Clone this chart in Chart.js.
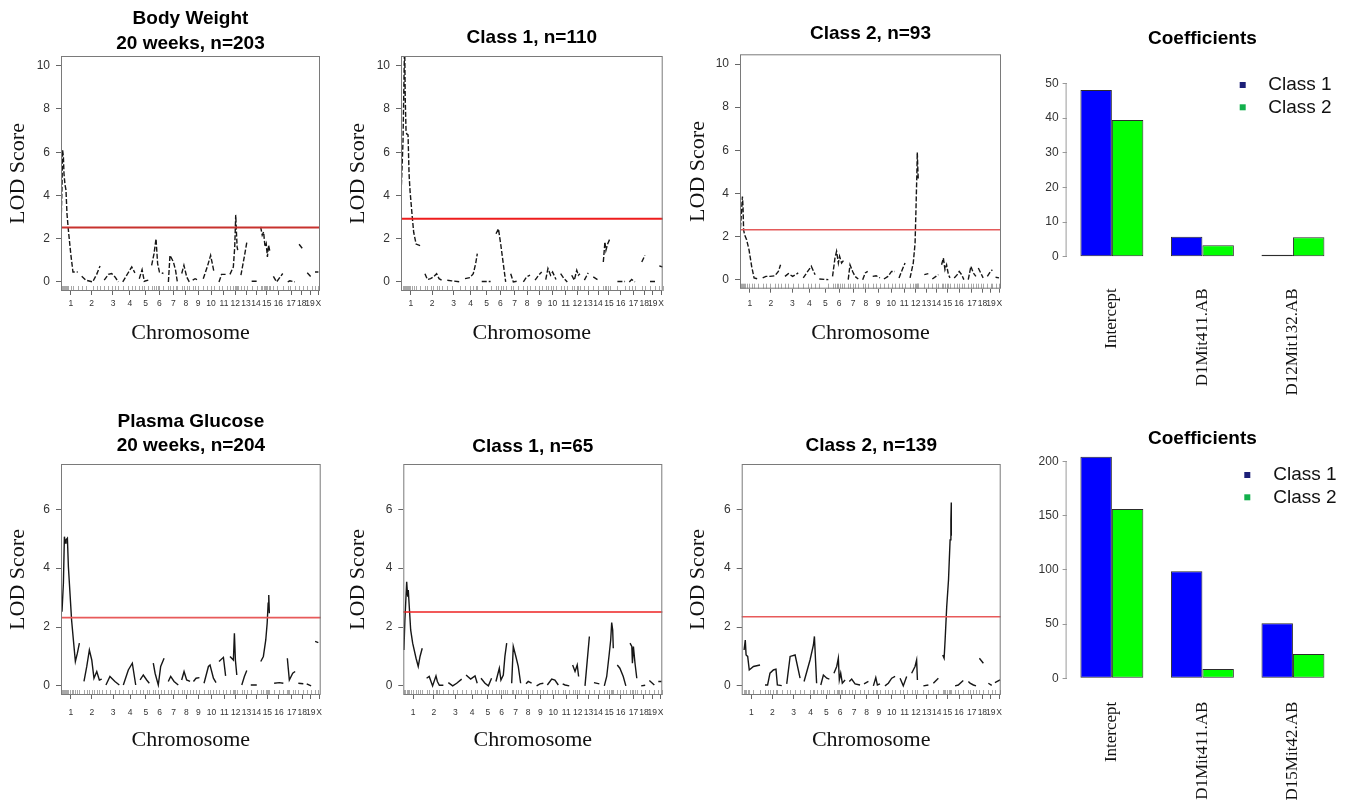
<!DOCTYPE html>
<html>
<head>
<meta charset="utf-8">
<title>LOD scores and class coefficients</title>
<script src="https://cdn.jsdelivr.net/npm/chart.js@4.4.1/dist/chart.umd.min.js"></script>
<style>
  html, body { margin: 0; padding: 0; background: #fff; overflow: hidden; }
  body { position: relative; width: 1351px; height: 805px; }
  canvas { position: absolute; }
</style>
</head>
<body>
<canvas id="bwAll" width="340" height="350" style="left:0;top:0"></canvas>
<canvas id="bwClass1" width="340" height="350" style="left:340px;top:0"></canvas>
<canvas id="bwClass2" width="340" height="350" style="left:680px;top:0"></canvas>
<canvas id="bwCoef" width="341" height="400" style="left:1010px;top:0"></canvas>
<canvas id="pgAll" width="340" height="365" style="left:0;top:400px"></canvas>
<canvas id="pgClass1" width="340" height="365" style="left:340px;top:400px"></canvas>
<canvas id="pgClass2" width="340" height="365" style="left:680px;top:400px"></canvas>
<canvas id="pgCoef" width="341" height="395" style="left:1010px;top:410px"></canvas>
<script>
// Chromosome axis (genome position, cM-like units along the whole genome)
const chromNames = ['1','2','3','4','5','6','7','8','9','10','11','12','13','14','15','16','17','18','19','X'];
const chromMid = [49,154,261,346,425,494,564,627,688,753,818,875,929,979,1033,1091,1155,1208,1250,1292];

// LOD curves: one sub-array per chromosome (positions / LOD scores)
// Body weight, all mice
const bwAllPos = [[0,5,8,12,15,20,25,30,37,49,60,84],[104,125,159,179,196],[217,238,254,271,288],[310,335,355,371],[393,407,418,438],[455,467,477,485,494,514],[539,547,564,575,584],[606,617,631,644],[661,673,689],[714,734,751,768],[793,806,831],[848,865,872,877,880,884,887],[903,920,934],[957,982],[1002,1010,1017,1024,1030,1036,1042,1049],[1066,1082,1113],[1138,1149,1174],[1195,1216],[1236,1258],[1275,1292]];
const bwAllLod = [[2.55,4.4,6.1,5.8,5.0,4.5,4.25,3.15,2.4,1.3,0.46,0.46],[0.26,0.08,0,0.35,0.74],[0.08,0.35,0.39,0.23,0],[0,0.39,0.69,0.42],[0.15,0.57,0.03,0.08],[0.77,1.31,2.0,0.85,0.46,0.39],[0,1.23,0.93,0.54,0],[0.39,0.77,0.23,0],[0.08,0.15,0.08],[0.15,0.69,1.23,0.46],[0,0.35,0.35],[0.35,0.69,1.62,3.1,2.4,1.62,1.47],[0.31,1.16,1.9],[0.03,0.03],[2.55,2.16,2.31,1.62,1.77,1.16,1.7,1.39],[0.26,0,0.39],[0,0.05,0],[1.74,1.5],[0.42,0.2],[0.46,0.46]];
// Body weight, class 1
const bwClass1Pos = [[2,10,15,18,21,25,28,35,40,45,55,63,75,95],[119,131,147,161,177,189,202],[230,252,293],[318,343,359,371,379],[401,445],[472,484,495,508,520],[545,558,583],[608,624,641],[666,684,699],[719,730,743,753,770],[793,810,826],[848,861,873,881,889],[911,930],[955,980],[1005,1013,1018,1027,1038],[1075,1113],[1134,1146,1162],[1196,1212],[1237,1262],[1283,1300]];
const bwClass1Lod = [[4.5,6.5,9.5,11.2,8.5,7.0,6.85,6.8,5.0,4.2,3.1,2.3,1.75,1.68],[0.38,0.11,0.15,0.23,0.38,0.15,0.08],[0.08,0.05,0],[0.15,0.2,0.38,0.85,1.31],[0.02,0.02],[2.23,2.46,1.77,0.85,0],[0.38,0,0.05],[0,0.23,0.31],[0.08,0.31,0.46],[0.11,0.62,0.31,0.46,0.11],[0.38,0.15,0],[0.31,0.08,0.54,0.31,0.38],[0.08,0.42],[0.23,0.08],[0.92,1.85,1.46,1.77,2.0],[0.02,0.02],[0,0.11,0],[0.92,1.23],[0.02,0.02],[0.74,0.69]];
// Body weight, class 2
const bwClass2Pos = [[0,7,12,15,18,23,33,45,58,70,91],[113,129,149,174,191,202],[224,241,262,290],[315,337,355,374],[395,440],[461,473,481,490,496,506,518],[539,548,561,573,589],[611,624,636],[661,678,697],[717,737,755,772],[792,808,822],[847,863,872,876,881,883,886,888],[918,938],[958,976,988],[1004,1013,1021,1029,1038,1046],[1067,1082,1092,1104,1115],[1137,1150,1162,1175],[1187,1199,1211],[1232,1248,1257],[1273,1290]];
const bwClass2Lod = [[2.08,3.08,3.85,3.38,2.31,2.08,1.85,1.38,0.62,0.08,0.03],[0.08,0.15,0.15,0.18,0.38,0.69],[0.15,0.28,0.15,0.31],[0.08,0.38,0.62,0.23],[0.03,0],[0.15,1.0,1.31,0.77,1.08,0.77,0.92],[0,0.69,0.38,0.15,0.03],[0,0.31,0.38],[0.15,0.18,0.08],[0.03,0.15,0.38,0.38],[0.08,0.46,0.77],[0.08,0.77,1.69,3.08,4.92,5.9,5.08,4.62],[0.23,0.28],[0.03,0.15,0.23],[0.69,1.0,0.46,0.69,0.23,0.08],[0.08,0.23,0.38,0.23,0],[0,0.62,0.31,0.15],[0.54,0.31,0.08],[0.15,0.38,0.46],[0.11,0.08]];
// Plasma glucose, all mice
const pgAllPos = [[5,12,17,22,25,32,37,45,53,62,72,82,92],[115,129,142,154,165,179,192,204],[225,245,270,292],[312,337,357,374],[396,412,429,442],[462,471,487,499,516],[537,549,566,587],[604,616,629,646],[663,676,693],[716,738,746,763,776],[791,813,824],[846,863,868,873,880],[905,918,930],[950,980],[1000,1013,1025,1032,1037,1040,1043],[1067,1093,1113],[1133,1138,1143,1160,1172],[1188,1213],[1230,1252],[1272,1288]];
const pgAllLod = [[2.52,3.49,5.07,4.85,4.96,5.02,4.05,3.15,2.24,1.56,0.83,1.11,1.45],[0.15,0.66,1.22,0.88,0.26,0.49,0.2,0.23],[0.03,0.32,0.15,0.03],[0.03,0.54,0.77,0.03],[0.2,0.37,0.2,0.09],[0.77,0.43,0.03,0.66,0.94],[0.15,0.32,0.15,0.03],[0.2,0.49,0.2,0.15],[0.15,0.26,0.28],[0.09,0.66,0.71,0.26,0.11],[0.83,0.97,0.34],[1.0,0.88,1.79,0.88,0.37],[0.03,0.32,0.52],[0.03,0.03],[0.83,1.0,1.56,2.13,2.81,3.09,2.47],[0.09,0.11,0.09],[0.94,0.57,0.2,0.43,0.49],[0.09,0.07],[0.07,0],[1.51,1.47]];
// Plasma glucose, class 1
const pgClass1Pos = [[3,8,17,22,25,30,37,47,64,75,84,95],[117,130,147,164,171,181,201],[226,248,268,293],[315,338,360,371],[390,410,427,443],[465,482,490,502,510,519],[544,552,565,577,589],[616,627,644],[669,686,703],[723,745,761,778],[800,812,833],[850,862,873,880],[912,934],[957,984],[1009,1021,1034,1041,1046,1051,1054],[1074,1087,1104,1117],[1138,1147,1150,1155,1163,1172],[1194,1214],[1235,1260],[1280,1297]];
const pgClass1Lod = [[1.22,2.24,3.54,3.03,3.26,2.69,1.9,1.45,0.94,0.66,1.0,1.28],[0.26,0.32,0,0.34,0.15,0.02,0.02],[0.11,0,0.09,0.23],[0.37,0.23,0.34,0.09],[0.26,0.09,0,0.26],[0.15,0.6,0.2,0.37,1.0,1.45],[0.09,1.34,1.0,0.66,0.09],[0.07,0.15,0.09],[0,0.07,0.09],[0.03,0.23,0.2,0.03],[0.07,0.03,0],[0.71,0.49,0.71,0.32],[0,1.68],[0.11,0.07],[0,0.32,1.11,1.56,2.15,1.9,1.28],[0.71,0.6,0.32,0],[1.45,1.34,0.77,1.34,0.77,0.26],[0,0.02],[0.18,0.03],[0.15,0.15]];
// Plasma glucose, class 2
const pgClass2Pos = [[12,18,22,30,38,59,92],[117,130,142,159,172,179,201],[226,243,268,293],[313,343,360,365,376],[397,410,427,440],[463,477,485,490,497,505,519],[540,552,569,594],[614,636],[661,673,681,694],[719,736,753,770],[795,811,828],[853,870,878,882],[912,937],[962,987],[1009,1016,1021,1029,1038,1046,1050,1052,1052],[1071,1087,1112],[1138,1146,1163,1176],[1193,1213],[1238,1255],[1271,1297]];
const pgClass2Lod = [[1.22,1.56,1.05,1.0,0.54,0.66,0.71],[0.03,0.03,0.43,0.54,0.57,0.03,0.01],[0.07,1.0,1.05,0.26],[0.15,0.88,1.39,1.68,0.09],[0.03,0.37,0.26,0.23],[0.43,0.66,0.94,0.2,0.43,0.09,0.2],[0.15,0.23,0.07,0.03],[0.07,0.15],[0,0.28,0.03,0.07],[0,0.09,0.26,0.32],[0.26,0,0.32],[0.43,0.66,0.88,0.2],[0,0.03],[0.09,0.26],[1.05,0.94,1.56,2.69,3.6,4.96,5.64,6.23,5.1],[0,0.03,0.18],[0.15,0.09,0.03,0],[0.94,0.77],[0.09,0.02],[0.11,0.2]];

// Significance thresholds (bwAll, bwClass1, bwClass2, pgAll, pgClass1, pgClass2)
const lodThreshold = [2.52, 2.92, 2.31, 2.32, 2.51, 2.35];

// Tick labels
const bwLodTicks = [0, 2, 4, 6, 8, 10];
const pgLodTicks = [0, 2, 4, 6];

// Mixture-model coefficients
const bwCoefNames = ['Intercept', 'D1Mit411.AB', 'D12Mit132.AB'];
const bwCoefClass1 = [48.1, 5.8, 0.6];
const bwCoefClass2 = [39.4, 3.3, 5.6];
const bwCoefTicks = [0, 10, 20, 30, 40, 50];
const pgCoefNames = ['Intercept', 'D1Mit411.AB', 'D15Mit42.AB'];
const pgCoefClass1 = [204.6, 98.8, 50.8];
const pgCoefClass2 = [156.3, 8.6, 22.4];
const pgCoefTicks = [0, 50, 100, 150, 200];
const classNames = ['Class 1', 'Class 2'];

const SANS = '"Liberation Sans", Arial, Helvetica, sans-serif';
const SERIF = '"Liberation Serif", "Times New Roman", Times, serif';

// R-style frame: marker rug, threshold line and plot box
const lodFrame = {
  id: 'lodFrame',
  afterDatasetsDraw(chart, args, o) {
    const {ctx, chartArea: a, scales: {x, y}} = chart;
    ctx.save();
    ctx.strokeStyle = '#a8a8a8';
    ctx.lineWidth = 1;
    ctx.beginPath();
    o.markers.forEach(p => {
      const px = Math.round(x.getPixelForValue(p)) + 0.5;
      ctx.moveTo(px, a.bottom);
      ctx.lineTo(px, a.bottom - 5);
    });
    ctx.stroke();

    const ty = y.getPixelForValue(o.threshold);
    ctx.strokeStyle = o.color;
    ctx.lineWidth = o.width;
    ctx.beginPath();
    ctx.moveTo(a.left, ty);
    ctx.lineTo(a.right, ty);
    ctx.stroke();

    ctx.strokeStyle = '#7a7a7a';
    ctx.lineWidth = 1;
    ctx.strokeRect(a.left + 0.5, a.top + 0.5, a.width - 1, a.height - 1);
    ctx.restore();
  }
};

// R barplot extras: partial y axis line and a top-right legend
const barExtras = {
  id: 'barExtras',
  afterDraw(chart, args, o) {
    const {ctx, chartArea: a, scales: {y}} = chart;
    ctx.save();
    ctx.strokeStyle = '#9a9a9a';
    ctx.lineWidth = 1;
    ctx.beginPath();
    ctx.moveTo(a.left - 0.5, y.getPixelForValue(o.axisFrom));
    ctx.lineTo(a.left - 0.5, y.getPixelForValue(o.axisTo));
    ctx.stroke();

    ctx.font = '19px ' + SANS;
    ctx.textBaseline = 'middle';
    chart.data.datasets.forEach((ds, i) => {
      const ly = a.top + o.legendTop + i * o.legendGap;
      ctx.fillStyle = o.keyColors[i];
      ctx.fillRect(a.right - o.keyX - 3, ly - 3, 6, 6);
      ctx.fillStyle = '#111';
      ctx.fillText(ds.label, a.right - o.textX, ly);
    });
    ctx.restore();
  }
};

function segPoints(pos, lod) {
  const pts = [];
  pos.forEach((seg, c) => {
    if (c > 0) pts.push({x: (pos[c - 1][pos[c - 1].length - 1] + seg[0]) / 2, y: null});
    seg.forEach((p, k) => pts.push({x: p, y: lod[c][k]}));
  });
  return pts;
}

function lodChart(id, o) {
  return new Chart(document.getElementById(id), {
    type: 'line',
    data: {
      datasets: [{
        data: segPoints(o.pos, o.lod),
        borderColor: '#161616',
        borderWidth: 1.4,
        borderDash: o.dash,
        pointRadius: 0,
        spanGaps: false,
        tension: 0
      }]
    },
    options: {
      responsive: false,
      animation: false,
      events: [],
      layout: {padding: {top: 0, right: o.padRight, bottom: 0, left: 0}},
      scales: {
        x: {
          type: 'linear', min: 0, max: 1300,
          afterBuildTicks: s => { s.ticks = chromMid.map(v => ({value: v})); },
          afterFit: s => { s.height = o.xHeight; },
          grid: {drawOnChartArea: false, drawTicks: true, tickLength: 4, color: '#666'},
          border: {display: false},
          ticks: {
            autoSkip: false, maxRotation: 0, minRotation: 0, padding: o.xPad,
            font: {family: SANS, size: 8.5}, color: '#333',
            callback: (v, i) => chromNames[i]
          },
          title: {display: true, text: 'Chromosome', color: '#111',
            font: {family: SERIF, size: 22}, padding: {top: 0, bottom: o.xTitlePad}}
        },
        y: {
          min: o.yMin, max: o.yMax,
          afterBuildTicks: s => { s.ticks = o.yTicks.map(v => ({value: v})); },
          afterFit: s => { s.width = o.yWidth; },
          grid: {drawOnChartArea: false, drawTicks: true, tickLength: 5, color: '#666'},
          border: {display: false},
          ticks: {padding: 6, font: {family: SANS, size: 12}, color: '#333'},
          title: {display: true, text: 'LOD Score', color: '#111',
            font: {family: SERIF, size: 22}, padding: {top: 5, bottom: 0}}
        }
      },
      plugins: {
        legend: {display: false},
        tooltip: {enabled: false},
        title: {
          display: true, text: o.title, fullSize: false, color: '#000',
          font: {family: SANS, size: 19, weight: 'bold', lineHeight: o.titleLH + 'px'},
          padding: {top: o.titleTop, bottom: o.titleBottom}
        },
        lodFrame: {markers: o.pos.flat(), threshold: o.threshold, color: o.lineColor, width: o.lineWidth}
      }
    },
    plugins: [lodFrame]
  });
}

function coefChart(id, o) {
  return new Chart(document.getElementById(id), {
    type: 'bar',
    data: {
      labels: o.names,
      datasets: [
        {label: classNames[0], data: o.class1, backgroundColor: '#0000ff', borderColor: '#2c2c2c', borderWidth: 1, borderSkipped: false},
        {label: classNames[1], data: o.class2, backgroundColor: '#00ff00', borderColor: '#2c2c2c', borderWidth: 1, borderSkipped: false}
      ]
    },
    options: {
      responsive: false,
      animation: false,
      events: [],
      categoryPercentage: 0.695,
      barPercentage: 1,
      layout: {padding: {top: 0, right: 12.8, bottom: 0, left: 0}},
      scales: {
        x: {
          afterFit: s => { s.height = o.xHeight; },
          grid: {display: false, drawTicks: false},
          border: {display: false},
          ticks: {autoSkip: false, minRotation: 90, maxRotation: 90, padding: o.xPad,
            font: {family: SERIF, size: 17}, color: '#111'}
        },
        y: {
          min: o.yMin, max: o.yMax,
          afterBuildTicks: s => { s.ticks = o.yTicks.map(v => ({value: v})); },
          afterFit: s => { s.width = 56.6; },
          grid: {drawOnChartArea: false, drawTicks: true, tickLength: 4, color: '#999'},
          border: {display: false},
          ticks: {padding: 4, font: {family: SANS, size: 12}, color: '#333'}
        }
      },
      plugins: {
        legend: {display: false},
        tooltip: {enabled: false},
        title: {
          display: true, text: 'Coefficients', fullSize: false, color: '#000',
          font: {family: SANS, size: 19, weight: 'bold', lineHeight: '25px'},
          padding: {top: o.titleTop, bottom: o.titleBottom}
        },
        barExtras: {
          axisFrom: o.yTicks[0], axisTo: o.yTicks[o.yTicks.length - 1],
          keyColors: ['#1c2078', '#12b04c'],
          legendTop: o.legendTop, legendGap: 22.3, keyX: o.keyX, textX: o.textX
        }
      }
    },
    plugins: [barExtras]
  });
}

const topDash = [5, 2];

lodChart('bwAll', {
  pos: bwAllPos, lod: bwAllLod, threshold: lodThreshold[0], lineColor: '#c8322e', lineWidth: 2,
  title: ['Body Weight', '20 weeks, n=203'], titleLH: 25, titleTop: 6, titleBottom: 0,
  yMin: -0.42, yMax: 10.45, yTicks: bwLodTicks, yWidth: 61, padRight: 20,
  xHeight: 59, xPad: 4, xTitlePad: 3.8, dash: topDash
});
lodChart('bwClass1', {
  pos: bwClass1Pos, lod: bwClass1Lod, threshold: lodThreshold[1], lineColor: '#ee1c1c', lineWidth: 2,
  title: 'Class 1, n=110', titleLH: 25, titleTop: 24.8, titleBottom: 6.2,
  yMin: -0.42, yMax: 10.45, yTicks: bwLodTicks, yWidth: 61, padRight: 17.3,
  xHeight: 59, xPad: 4, xTitlePad: 3.8, dash: topDash
});
lodChart('bwClass2', {
  pos: bwClass2Pos, lod: bwClass2Lod, threshold: lodThreshold[2], lineColor: '#e45a5a', lineWidth: 1.5,
  title: 'Class 2, n=93', titleLH: 25, titleTop: 20.8, titleBottom: 8.5,
  yMin: -0.42, yMax: 10.45, yTicks: bwLodTicks, yWidth: 60, padRight: 19,
  xHeight: 61.3, xPad: 6.3, xTitlePad: 3.5, dash: topDash
});
lodChart('pgAll', {
  pos: pgAllPos, lod: pgAllLod, threshold: lodThreshold[3], lineColor: '#e85a5a', lineWidth: 1.8,
  title: ['Plasma Glucose', '20 weeks, n=204'], titleLH: 24, titleTop: 9.7, titleBottom: 6.3,
  yMin: -0.31, yMax: 7.54, yTicks: pgLodTicks, yWidth: 61, padRight: 19.3,
  xHeight: 70, xPad: 8.7, xTitlePad: 11.1, dash: []
});
lodChart('pgClass1', {
  pos: pgClass1Pos, lod: pgClass1Lod, threshold: lodThreshold[4], lineColor: '#ee2222', lineWidth: 1.5,
  title: 'Class 1, n=65', titleLH: 24, titleTop: 34.7, titleBottom: 5.3,
  yMin: -0.31, yMax: 7.54, yTicks: pgLodTicks, yWidth: 63.3, padRight: 17.7,
  xHeight: 70, xPad: 8.7, xTitlePad: 11.1, dash: []
});
lodChart('pgClass2', {
  pos: pgClass2Pos, lod: pgClass2Lod, threshold: lodThreshold[5], lineColor: '#e85a5a', lineWidth: 1.6,
  title: 'Class 2, n=139', titleLH: 24, titleTop: 34, titleBottom: 6,
  yMin: -0.31, yMax: 7.54, yTicks: pgLodTicks, yWidth: 61.7, padRight: 19.3,
  xHeight: 70, xPad: 8.7, xTitlePad: 11.1, dash: []
});

coefChart('bwCoef', {
  names: bwCoefNames, class1: bwCoefClass1, class2: bwCoefClass2,
  yMin: -1.92, yMax: 50.5, yTicks: bwCoefTicks,
  titleTop: 25.8, titleBottom: 30.8, xHeight: 136.6, xPad: 24.9,
  legendTop: 3.4, keyX: 95.5, textX: 69.9
});
coefChart('pgCoef', {
  names: pgCoefNames, class1: pgCoefClass1, class2: pgCoefClass2,
  yMin: -8.2, yMax: 209.8, yTicks: pgCoefTicks,
  titleTop: 15.8, titleBottom: 0.2, xHeight: 117.8, xPad: 14.5,
  legendTop: 24, keyX: 90.9, textX: 64.9
});
</script>
</body>
</html>
